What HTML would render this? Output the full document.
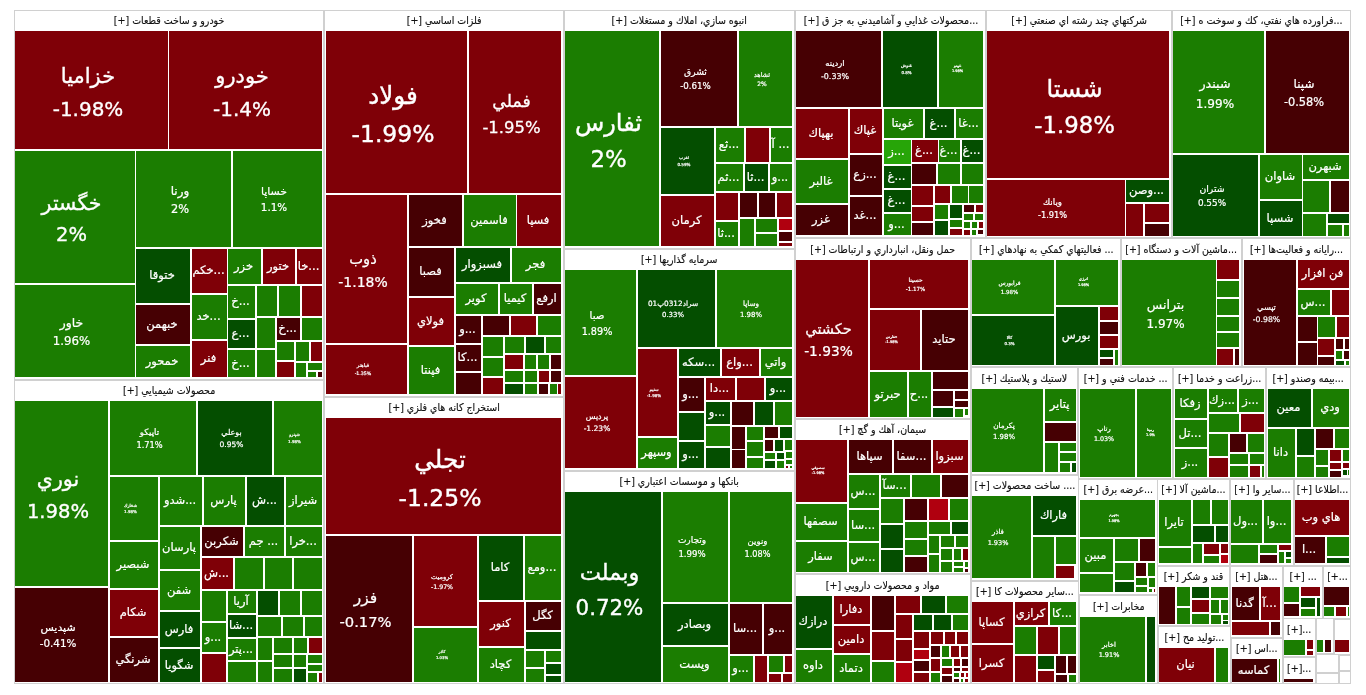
<!DOCTYPE html>
<html lang="fa"><head><meta charset="utf-8"><title>نقشه بازار</title><style>
html,body{margin:0;padding:0;background:#fff}
body{width:1366px;height:695px;position:relative;overflow:hidden;font-family:"DejaVu Sans","Liberation Sans",sans-serif}
.s{position:absolute;box-sizing:border-box;border:1px solid #d0d0d0;background:#fff}
.h{position:absolute;font-size:10.5px;transform:scaleX(.9);-webkit-text-stroke:.15px #111;color:#111;text-align:center;direction:rtl;white-space:nowrap;overflow:hidden}
.c{position:absolute;color:#fff;font-size:11.5px;line-height:1.5;display:flex;align-items:center;justify-content:center;text-align:center;overflow:hidden;white-space:nowrap;-webkit-text-stroke:max(.016em,.22px) #fff}
.c span{display:block;padding-right:2px}
.c .t{line-height:1.53;padding:.24em 7px 0 0}
.c i{font-style:normal;font-size:.95em}
</style></head><body>
<div class="s" style="left:14px;top:10px;width:310px;height:370px"></div>
<div class="h" style="left:-2.1px;top:11px;width:342.2px;height:20px;line-height:19px">خودرو و ساخت قطعات [+]</div>
<div class="c" style="left:15px;top:31px;width:153px;height:118px;background:#7f0007;font-size:21.0px"><span class="t">خزاميا<br><i>-1.98%</i></span></div>
<div class="c" style="left:169px;top:31px;width:153px;height:118px;background:#7f0007;font-size:21.0px"><span class="t">خودرو<br><i>-1.4%</i></span></div>
<div class="c" style="left:15px;top:151px;width:120px;height:132px;background:#1b7d01;font-size:20.5px"><span class="t">خگستر<br><i>2%</i></span></div>
<div class="c" style="left:136px;top:151px;width:95px;height:96px;background:#1b7d01;font-size:11.98px"><span class="t">ورنا<br><i>2%</i></span></div>
<div class="c" style="left:233px;top:151px;width:89px;height:96px;background:#1b7d01;font-size:10.92px"><span class="t">خساپا<br><i>1.1%</i></span></div>
<div class="c" style="left:136px;top:249px;width:54px;height:54px;background:#044e00"><span>ختوقا</span></div>
<div class="c" style="left:192px;top:249px;width:35px;height:44px;background:#7f0007"><span>خكم...</span></div>
<div class="c" style="left:228px;top:249px;width:33px;height:35px;background:#1b7d01"><span>خزر</span></div>
<div class="c" style="left:263px;top:249px;width:32px;height:35px;background:#7f0007"><span>ختور</span></div>
<div class="c" style="left:297px;top:249px;width:25px;height:35px;background:#7f0007"><span>خا...</span></div>
<div class="c" style="left:15px;top:285px;width:120px;height:92px;background:#1b7d01;font-size:12.4px"><span class="t">خاور<br><i>1.96%</i></span></div>
<div class="c" style="left:136px;top:305px;width:54px;height:39px;background:#460003"><span>خبهمن</span></div>
<div class="c" style="left:136px;top:346px;width:54px;height:31px;background:#1b7d01"><span>خمحور</span></div>
<div class="c" style="left:192px;top:295px;width:35px;height:44px;background:#1b7d01"><span>خد...</span></div>
<div class="c" style="left:192px;top:341px;width:35px;height:36px;background:#7f0007"><span>فنر</span></div>
<div class="c" style="left:228px;top:286px;width:27px;height:32px;background:#1b7d01"><span>خ...</span></div>
<div class="c" style="left:228px;top:320px;width:27px;height:28px;background:#044e00"><span>ع...</span></div>
<div class="c" style="left:228px;top:350px;width:27px;height:27px;background:#1b7d01"><span>خ...</span></div>
<div class="c" style="left:257px;top:286px;width:20px;height:30px;background:#1b7d01"></div>
<div class="c" style="left:257px;top:318px;width:18px;height:30px;background:#1b7d01"></div>
<div class="c" style="left:257px;top:350px;width:18px;height:27px;background:#1b7d01"></div>
<div class="c" style="left:279px;top:286px;width:21px;height:30px;background:#1b7d01"></div>
<div class="c" style="left:302px;top:286px;width:20px;height:30px;background:#7f0007"></div>
<div class="c" style="left:277px;top:318px;width:23px;height:22px;background:#460003"><span>خ...</span></div>
<div class="c" style="left:302px;top:318px;width:20px;height:22px;background:#1b7d01"></div>
<div class="c" style="left:277px;top:342px;width:17px;height:18px;background:#1b7d01"></div>
<div class="c" style="left:296px;top:342px;width:13px;height:19px;background:#1b7d01"></div>
<div class="c" style="left:311px;top:342px;width:11px;height:19px;background:#7f0007"></div>
<div class="c" style="left:277px;top:362px;width:17px;height:15px;background:#7f0007"></div>
<div class="c" style="left:296px;top:363px;width:10px;height:14px;background:#1b7d01"></div>
<div class="c" style="left:308px;top:363px;width:14px;height:7px;background:#1b7d01"></div>
<div class="c" style="left:308px;top:372px;width:8px;height:5px;background:#1b7d01"></div>
<div class="c" style="left:318px;top:372px;width:4px;height:5px;background:#460003"></div>
<div class="s" style="left:14px;top:380px;width:310px;height:304px"></div>
<div class="h" style="left:-2.1px;top:381px;width:342.2px;height:20px;line-height:19px">محصولات شيميايي [+]</div>
<div class="c" style="left:15px;top:401px;width:93px;height:185px;background:#1b7d01;font-size:20.6px"><span class="t">نوري<br><i>1.98%</i></span></div>
<div class="c" style="left:110px;top:401px;width:86px;height:74px;background:#1b7d01;font-size:8.69px"><span class="t">تاپيكو<br><i>1.71%</i></span></div>
<div class="c" style="left:198px;top:401px;width:74px;height:74px;background:#044e00;font-size:7.95px"><span class="t">بوعلي<br><i>0.95%</i></span></div>
<div class="c" style="left:274px;top:401px;width:48px;height:74px;background:#1b7d01;font-size:4.24px"><span class="t">شپترو<br><i>1.98%</i></span></div>
<div class="c" style="left:110px;top:477px;width:48px;height:63px;background:#1b7d01;font-size:4.24px"><span class="t">شخارك<br><i>1.98%</i></span></div>
<div class="c" style="left:160px;top:477px;width:42px;height:48px;background:#1b7d01"><span>شدو...</span></div>
<div class="c" style="left:204px;top:477px;width:41px;height:48px;background:#1b7d01"><span>پارس</span></div>
<div class="c" style="left:247px;top:477px;width:37px;height:48px;background:#044e00"><span>ش...</span></div>
<div class="c" style="left:286px;top:477px;width:36px;height:48px;background:#1b7d01"><span>شيراز</span></div>
<div class="c" style="left:160px;top:527px;width:40px;height:42px;background:#1b7d01"><span>پارسان</span></div>
<div class="c" style="left:202px;top:527px;width:41px;height:29px;background:#460003"><span>شكربن</span></div>
<div class="c" style="left:245px;top:527px;width:39px;height:29px;background:#1b7d01"><span>جم ...</span></div>
<div class="c" style="left:286px;top:527px;width:36px;height:29px;background:#1b7d01"><span>خرا...</span></div>
<div class="c" style="left:110px;top:542px;width:48px;height:46px;background:#1b7d01"><span>شبصير</span></div>
<div class="c" style="left:110px;top:590px;width:48px;height:46px;background:#7f0007"><span>شكام</span></div>
<div class="c" style="left:110px;top:638px;width:48px;height:44px;background:#460003"><span>شرنگي</span></div>
<div class="c" style="left:15px;top:588px;width:93px;height:94px;background:#460003;font-size:10.92px"><span class="t">شپديس<br><i>-0.41%</i></span></div>
<div class="c" style="left:160px;top:571px;width:40px;height:39px;background:#1b7d01"><span>شفن</span></div>
<div class="c" style="left:160px;top:612px;width:40px;height:35px;background:#044e00"><span>فارس</span></div>
<div class="c" style="left:160px;top:649px;width:40px;height:33px;background:#044e00"><span>شگويا</span></div>
<div class="c" style="left:202px;top:558px;width:31px;height:31px;background:#7f0007"><span>ش...</span></div>
<div class="c" style="left:235px;top:558px;width:28px;height:31px;background:#1b7d01"></div>
<div class="c" style="left:265px;top:558px;width:27px;height:31px;background:#1b7d01"></div>
<div class="c" style="left:294px;top:558px;width:28px;height:31px;background:#1b7d01"></div>
<div class="c" style="left:202px;top:591px;width:24px;height:30px;background:#1b7d01"></div>
<div class="c" style="left:202px;top:623px;width:24px;height:29px;background:#1b7d01"><span>و...</span></div>
<div class="c" style="left:202px;top:654px;width:24px;height:28px;background:#7f0007"></div>
<div class="c" style="left:228px;top:591px;width:28px;height:22px;background:#1b7d01"><span>آريا</span></div>
<div class="c" style="left:228px;top:615px;width:28px;height:22px;background:#044e00"><span>شا...</span></div>
<div class="c" style="left:228px;top:639px;width:28px;height:21px;background:#1b7d01"><span>پتر...</span></div>
<div class="c" style="left:228px;top:662px;width:28px;height:20px;background:#1b7d01"></div>
<div class="c" style="left:258px;top:591px;width:20px;height:24px;background:#044e00"></div>
<div class="c" style="left:280px;top:591px;width:20px;height:24px;background:#1b7d01"></div>
<div class="c" style="left:302px;top:591px;width:20px;height:24px;background:#1b7d01"></div>
<div class="c" style="left:258px;top:617px;width:23px;height:19px;background:#1b7d01"></div>
<div class="c" style="left:283px;top:617px;width:20px;height:19px;background:#1b7d01"></div>
<div class="c" style="left:305px;top:617px;width:17px;height:19px;background:#1b7d01"></div>
<div class="c" style="left:258px;top:638px;width:14px;height:22px;background:#1b7d01"></div>
<div class="c" style="left:258px;top:662px;width:14px;height:20px;background:#1b7d01"></div>
<div class="c" style="left:274px;top:638px;width:18px;height:15px;background:#1b7d01"></div>
<div class="c" style="left:294px;top:638px;width:13px;height:15px;background:#1b7d01"></div>
<div class="c" style="left:309px;top:638px;width:13px;height:15px;background:#7f0007"></div>
<div class="c" style="left:274px;top:655px;width:18px;height:12px;background:#1b7d01"></div>
<div class="c" style="left:294px;top:655px;width:12px;height:12px;background:#1b7d01"></div>
<div class="c" style="left:308px;top:655px;width:14px;height:8px;background:#1b7d01"></div>
<div class="c" style="left:308px;top:665px;width:14px;height:6px;background:#1b7d01"></div>
<div class="c" style="left:274px;top:669px;width:18px;height:13px;background:#1b7d01"></div>
<div class="c" style="left:294px;top:669px;width:12px;height:13px;background:#044e00"></div>
<div class="c" style="left:308px;top:673px;width:9px;height:9px;background:#1b7d01"></div>
<div class="c" style="left:319px;top:673px;width:3px;height:9px;background:#7f0007"></div>
<div class="s" style="left:324px;top:10px;width:240px;height:387px"></div>
<div class="h" style="left:311.8px;top:11px;width:264.4px;height:20px;line-height:19px">فلزات اساسي [+]</div>
<div class="c" style="left:326px;top:31px;width:141px;height:162px;background:#7f0007;font-size:24.7px"><span class="t">فولاد<br><i>-1.99%</i></span></div>
<div class="c" style="left:469px;top:31px;width:92px;height:162px;background:#7f0007;font-size:17.3px"><span class="t">فملي<br><i>-1.95%</i></span></div>
<div class="c" style="left:326px;top:195px;width:81px;height:148px;background:#7f0007;font-size:14.7px"><span class="t">ذوب<br><i>-1.18%</i></span></div>
<div class="c" style="left:409px;top:195px;width:53px;height:51px;background:#460003"><span>فخوز</span></div>
<div class="c" style="left:464px;top:195px;width:52px;height:51px;background:#1b7d01"><span>فاسمين</span></div>
<div class="c" style="left:517px;top:195px;width:44px;height:51px;background:#7f0007"><span>فسپا</span></div>
<div class="c" style="left:409px;top:248px;width:45px;height:48px;background:#460003"><span>فصبا</span></div>
<div class="c" style="left:456px;top:248px;width:54px;height:34px;background:#044e00"><span>فسبزوار</span></div>
<div class="c" style="left:512px;top:248px;width:49px;height:34px;background:#1b7d01"><span>فجر</span></div>
<div class="c" style="left:456px;top:284px;width:42px;height:30px;background:#1b7d01"><span>كوير</span></div>
<div class="c" style="left:500px;top:284px;width:32px;height:30px;background:#1b7d01"><span>كيميا</span></div>
<div class="c" style="left:534px;top:284px;width:27px;height:30px;background:#460003"><span>ارفع</span></div>
<div class="c" style="left:409px;top:298px;width:45px;height:47px;background:#7f0007"><span>فولاي</span></div>
<div class="c" style="left:409px;top:347px;width:45px;height:47px;background:#1b7d01"><span>فپنتا</span></div>
<div class="c" style="left:326px;top:345px;width:81px;height:49px;background:#7f0007;font-size:4.98px"><span class="t">فباهنر<br><i>-1.35%</i></span></div>
<div class="c" style="left:456px;top:316px;width:25px;height:27px;background:#460003"><span>و...</span></div>
<div class="c" style="left:456px;top:345px;width:25px;height:26px;background:#460003"><span>كا...</span></div>
<div class="c" style="left:456px;top:373px;width:25px;height:21px;background:#460003"></div>
<div class="c" style="left:483px;top:316px;width:26px;height:19px;background:#460003"></div>
<div class="c" style="left:511px;top:316px;width:25px;height:19px;background:#7f0007"></div>
<div class="c" style="left:538px;top:316px;width:23px;height:19px;background:#1b7d01"></div>
<div class="c" style="left:483px;top:337px;width:20px;height:19px;background:#1b7d01"></div>
<div class="c" style="left:505px;top:337px;width:19px;height:16px;background:#1b7d01"></div>
<div class="c" style="left:526px;top:337px;width:18px;height:16px;background:#044e00"></div>
<div class="c" style="left:546px;top:337px;width:15px;height:16px;background:#1b7d01"></div>
<div class="c" style="left:483px;top:358px;width:20px;height:18px;background:#1b7d01"></div>
<div class="c" style="left:483px;top:378px;width:20px;height:16px;background:#7f0007"></div>
<div class="c" style="left:505px;top:355px;width:18px;height:14px;background:#7f0007"></div>
<div class="c" style="left:525px;top:355px;width:11px;height:14px;background:#1b7d01"></div>
<div class="c" style="left:538px;top:355px;width:11px;height:14px;background:#1b7d01"></div>
<div class="c" style="left:551px;top:355px;width:10px;height:14px;background:#460003"></div>
<div class="c" style="left:505px;top:371px;width:18px;height:11px;background:#1b7d01"></div>
<div class="c" style="left:525px;top:371px;width:12px;height:11px;background:#1b7d01"></div>
<div class="c" style="left:539px;top:371px;width:10px;height:11px;background:#7f0007"></div>
<div class="c" style="left:551px;top:371px;width:10px;height:11px;background:#460003"></div>
<div class="c" style="left:505px;top:384px;width:18px;height:10px;background:#044e00"></div>
<div class="c" style="left:525px;top:384px;width:12px;height:10px;background:#1b7d01"></div>
<div class="c" style="left:539px;top:384px;width:9px;height:10px;background:#460003"></div>
<div class="c" style="left:550px;top:384px;width:7px;height:10px;background:#1b7d01"></div>
<div class="c" style="left:558px;top:384px;width:3px;height:10px;background:#7f0007"></div>
<div class="s" style="left:324px;top:397px;width:240px;height:287px"></div>
<div class="h" style="left:311.8px;top:398px;width:264.4px;height:20px;line-height:19px">استخراج كانه هاي فلزي [+]</div>
<div class="c" style="left:326px;top:418px;width:235px;height:116px;background:#7f0007;font-size:24.7px"><span class="t">تجلي<br><i>-1.25%</i></span></div>
<div class="c" style="left:326px;top:536px;width:86px;height:146px;background:#460003;font-size:15.5px"><span class="t">فزر<br><i>-0.17%</i></span></div>
<div class="c" style="left:414px;top:536px;width:63px;height:90px;background:#7f0007;font-size:6.57px"><span class="t">كروميت<br><i>-1.97%</i></span></div>
<div class="c" style="left:414px;top:628px;width:63px;height:54px;background:#1b7d01;font-size:4.03px"><span class="t">كاذر<br><i>1.03%</i></span></div>
<div class="c" style="left:479px;top:536px;width:44px;height:64px;background:#044e00"><span>كاما</span></div>
<div class="c" style="left:525px;top:536px;width:36px;height:64px;background:#1b7d01"><span>ومع...</span></div>
<div class="c" style="left:479px;top:602px;width:45px;height:44px;background:#7f0007"><span>كنور</span></div>
<div class="c" style="left:526px;top:602px;width:35px;height:28px;background:#460003"><span>كگل</span></div>
<div class="c" style="left:526px;top:632px;width:35px;height:17px;background:#044e00"></div>
<div class="c" style="left:479px;top:648px;width:45px;height:34px;background:#1b7d01"><span>كچاد</span></div>
<div class="c" style="left:526px;top:651px;width:18px;height:16px;background:#1b7d01"></div>
<div class="c" style="left:526px;top:669px;width:18px;height:13px;background:#1b7d01"></div>
<div class="c" style="left:546px;top:651px;width:15px;height:11px;background:#1b7d01"></div>
<div class="c" style="left:546px;top:664px;width:15px;height:10px;background:#044e00"></div>
<div class="c" style="left:546px;top:676px;width:15px;height:6px;background:#044e00"></div>
<div class="s" style="left:564px;top:10px;width:231px;height:239px"></div>
<div class="h" style="left:552.3px;top:11px;width:254.4px;height:20px;line-height:19px">انبوه سازي، املاك و مستغلات [+]</div>
<div class="c" style="left:565px;top:31px;width:94px;height:215px;background:#1b7d01;font-size:24.0px"><span class="t">ثفارس<br><i>2%</i></span></div>
<div class="c" style="left:661px;top:31px;width:76px;height:95px;background:#460003;font-size:9.12px"><span class="t">ثشرق<br><i>-0.61%</i></span></div>
<div class="c" style="left:739px;top:31px;width:53px;height:95px;background:#1b7d01;font-size:6.36px"><span class="t">ثشاهد<br><i>2%</i></span></div>
<div class="c" style="left:661px;top:128px;width:53px;height:66px;background:#044e00;font-size:4.35px"><span class="t">ثغرب<br><i>0.59%</i></span></div>
<div class="c" style="left:661px;top:196px;width:53px;height:50px;background:#7f0007"><span>كرمان</span></div>
<div class="c" style="left:716px;top:128px;width:28px;height:34px;background:#1b7d01"><span>ثع...</span></div>
<div class="c" style="left:746px;top:128px;width:23px;height:34px;background:#7f0007"></div>
<div class="c" style="left:771px;top:128px;width:21px;height:34px;background:#1b7d01"><span>آ ...</span></div>
<div class="c" style="left:716px;top:164px;width:27px;height:27px;background:#1b7d01"><span>ثم...</span></div>
<div class="c" style="left:745px;top:164px;width:23px;height:27px;background:#044e00"><span>ثا...</span></div>
<div class="c" style="left:770px;top:164px;width:22px;height:27px;background:#1b7d01"><span>و...</span></div>
<div class="c" style="left:716px;top:193px;width:22px;height:27px;background:#7f0007"></div>
<div class="c" style="left:740px;top:193px;width:17px;height:24px;background:#460003"></div>
<div class="c" style="left:759px;top:193px;width:16px;height:24px;background:#460003"></div>
<div class="c" style="left:777px;top:193px;width:15px;height:24px;background:#7f0007"></div>
<div class="c" style="left:716px;top:222px;width:22px;height:24px;background:#1b7d01"><span>ثا...</span></div>
<div class="c" style="left:740px;top:219px;width:14px;height:27px;background:#1b7d01"></div>
<div class="c" style="left:756px;top:219px;width:21px;height:13px;background:#1b7d01"></div>
<div class="c" style="left:756px;top:234px;width:21px;height:12px;background:#1b7d01"></div>
<div class="c" style="left:779px;top:219px;width:13px;height:11px;background:#b0000f"></div>
<div class="c" style="left:779px;top:232px;width:13px;height:9px;background:#460003"></div>
<div class="c" style="left:779px;top:243px;width:13px;height:3px;background:#7f0007"></div>
<div class="s" style="left:564px;top:249px;width:231px;height:222px"></div>
<div class="h" style="left:552.3px;top:250px;width:254.4px;height:20px;line-height:19px">سرمايه گذاريها [+]</div>
<div class="c" style="left:565px;top:270px;width:71px;height:105px;background:#1b7d01;font-size:10.18px"><span class="t">صبا<br><i>1.89%</i></span></div>
<div class="c" style="left:565px;top:377px;width:71px;height:91px;background:#7f0007;font-size:7.95px"><span class="t">پرديس<br><i>-1.23%</i></span></div>
<div class="c" style="left:638px;top:270px;width:77px;height:77px;background:#044e00;font-size:7.31px"><span class="t">سراد0312پ01<br><i>0.33%</i></span></div>
<div class="c" style="left:717px;top:270px;width:75px;height:77px;background:#1b7d01;font-size:7.31px"><span class="t">وساپا<br><i>1.98%</i></span></div>
<div class="c" style="left:638px;top:349px;width:39px;height:87px;background:#7f0007;font-size:4.24px"><span class="t">ستيم<br><i>-1.98%</i></span></div>
<div class="c" style="left:638px;top:438px;width:39px;height:30px;background:#1b7d01"><span>وسپهر</span></div>
<div class="c" style="left:679px;top:349px;width:41px;height:27px;background:#044e00"><span>سكه...</span></div>
<div class="c" style="left:722px;top:349px;width:37px;height:27px;background:#7f0007"><span>واع...</span></div>
<div class="c" style="left:761px;top:349px;width:31px;height:27px;background:#1b7d01"><span>واتي</span></div>
<div class="c" style="left:679px;top:378px;width:25px;height:33px;background:#460003"><span>و...</span></div>
<div class="c" style="left:679px;top:413px;width:25px;height:27px;background:#044e00"></div>
<div class="c" style="left:679px;top:442px;width:25px;height:26px;background:#044e00"><span>و...</span></div>
<div class="c" style="left:706px;top:378px;width:29px;height:22px;background:#7f0007"><span>دا...</span></div>
<div class="c" style="left:737px;top:378px;width:27px;height:22px;background:#7f0007"></div>
<div class="c" style="left:766px;top:378px;width:26px;height:22px;background:#044e00"><span>و...</span></div>
<div class="c" style="left:706px;top:402px;width:24px;height:22px;background:#044e00"><span>و...</span></div>
<div class="c" style="left:732px;top:402px;width:21px;height:23px;background:#460003"></div>
<div class="c" style="left:755px;top:402px;width:18px;height:23px;background:#044e00"></div>
<div class="c" style="left:775px;top:402px;width:17px;height:23px;background:#1b7d01"></div>
<div class="c" style="left:706px;top:426px;width:24px;height:20px;background:#1b7d01"></div>
<div class="c" style="left:706px;top:448px;width:24px;height:20px;background:#044e00"></div>
<div class="c" style="left:732px;top:427px;width:13px;height:22px;background:#460003"></div>
<div class="c" style="left:732px;top:450px;width:13px;height:18px;background:#460003"></div>
<div class="c" style="left:747px;top:427px;width:16px;height:13px;background:#1b7d01"></div>
<div class="c" style="left:747px;top:442px;width:16px;height:14px;background:#1b7d01"></div>
<div class="c" style="left:747px;top:458px;width:16px;height:10px;background:#1b7d01"></div>
<div class="c" style="left:765px;top:427px;width:13px;height:11px;background:#460003"></div>
<div class="c" style="left:780px;top:427px;width:12px;height:11px;background:#044e00"></div>
<div class="c" style="left:765px;top:440px;width:8px;height:11px;background:#460003"></div>
<div class="c" style="left:775px;top:440px;width:8px;height:11px;background:#044e00"></div>
<div class="c" style="left:785px;top:440px;width:7px;height:10px;background:#1b7d01"></div>
<div class="c" style="left:765px;top:453px;width:10px;height:6px;background:#1b7d01"></div>
<div class="c" style="left:777px;top:453px;width:7px;height:6px;background:#044e00"></div>
<div class="c" style="left:786px;top:452px;width:6px;height:6px;background:#1b7d01"></div>
<div class="c" style="left:765px;top:461px;width:10px;height:7px;background:#044e00"></div>
<div class="c" style="left:777px;top:461px;width:7px;height:7px;background:#1b7d01"></div>
<div class="c" style="left:786px;top:460px;width:6px;height:4px;background:#1b7d01"></div>
<div class="c" style="left:786px;top:466px;width:2px;height:2px;background:#7f0007"></div>
<div class="c" style="left:790px;top:466px;width:2px;height:2px;background:#1b7d01"></div>
<div class="s" style="left:564px;top:471px;width:231px;height:213px"></div>
<div class="h" style="left:552.3px;top:472px;width:254.4px;height:20px;line-height:19px">بانكها و موسسات اعتباري [+]</div>
<div class="c" style="left:565px;top:492px;width:96px;height:190px;background:#044e00;font-size:22.5px"><span class="t">وبملت<br><i>0.72%</i></span></div>
<div class="c" style="left:663px;top:492px;width:65px;height:110px;background:#1b7d01;font-size:9.01px"><span class="t">وتجارت<br><i>1.99%</i></span></div>
<div class="c" style="left:730px;top:492px;width:62px;height:110px;background:#1b7d01;font-size:8.59px"><span class="t">ونوين<br><i>1.08%</i></span></div>
<div class="c" style="left:663px;top:604px;width:65px;height:41px;background:#044e00"><span>وبصادر</span></div>
<div class="c" style="left:663px;top:647px;width:65px;height:35px;background:#1b7d01"><span>وپست</span></div>
<div class="c" style="left:730px;top:604px;width:32px;height:50px;background:#460003"><span>سا...</span></div>
<div class="c" style="left:764px;top:604px;width:28px;height:50px;background:#460003"><span>و...</span></div>
<div class="c" style="left:730px;top:656px;width:23px;height:26px;background:#1b7d01"><span>و...</span></div>
<div class="c" style="left:755px;top:656px;width:12px;height:26px;background:#7f0007"></div>
<div class="c" style="left:769px;top:656px;width:14px;height:16px;background:#1b7d01"></div>
<div class="c" style="left:785px;top:656px;width:7px;height:16px;background:#7f0007"></div>
<div class="c" style="left:769px;top:674px;width:12px;height:8px;background:#7f0007"></div>
<div class="c" style="left:783px;top:674px;width:9px;height:8px;background:#7f0007"></div>
<div class="s" style="left:795px;top:10px;width:191px;height:228px"></div>
<div class="h" style="left:785.5px;top:11px;width:210.0px;height:20px;line-height:19px">...محصولات غذايي و آشاميدني به جز ق [+]</div>
<div class="c" style="left:796px;top:31px;width:85px;height:76px;background:#460003;font-size:8.37px"><span class="t">اردينه<br><i>-0.33%</i></span></div>
<div class="c" style="left:883px;top:31px;width:54px;height:76px;background:#044e00;font-size:4.24px"><span class="t">غنوش<br><i>0.8%</i></span></div>
<div class="c" style="left:939px;top:31px;width:44px;height:76px;background:#1b7d01;font-size:3.71px"><span class="t">غپينو<br><i>1.98%</i></span></div>
<div class="c" style="left:796px;top:109px;width:52px;height:49px;background:#7f0007"><span>بهپاك</span></div>
<div class="c" style="left:796px;top:160px;width:52px;height:43px;background:#1b7d01"><span>غالبر</span></div>
<div class="c" style="left:796px;top:205px;width:52px;height:30px;background:#460003"><span>غزر</span></div>
<div class="c" style="left:850px;top:109px;width:32px;height:44px;background:#7f0007"><span>غپاك</span></div>
<div class="c" style="left:850px;top:155px;width:32px;height:40px;background:#460003"><span>زع...</span></div>
<div class="c" style="left:850px;top:197px;width:32px;height:38px;background:#460003"><span>غد...</span></div>
<div class="c" style="left:884px;top:109px;width:39px;height:29px;background:#1b7d01"><span>غويتا</span></div>
<div class="c" style="left:925px;top:109px;width:29px;height:29px;background:#044e00"><span>غ...</span></div>
<div class="c" style="left:956px;top:109px;width:27px;height:29px;background:#1b7d01"><span>غا...</span></div>
<div class="c" style="left:884px;top:140px;width:27px;height:24px;background:#27a508"><span>ز...</span></div>
<div class="c" style="left:912px;top:140px;width:26px;height:22px;background:#7f0007"><span>غ...</span></div>
<div class="c" style="left:939px;top:140px;width:21px;height:22px;background:#1b7d01"><span>غ...</span></div>
<div class="c" style="left:962px;top:140px;width:21px;height:22px;background:#044e00"><span>غ...</span></div>
<div class="c" style="left:912px;top:164px;width:24px;height:20px;background:#460003"></div>
<div class="c" style="left:938px;top:164px;width:22px;height:20px;background:#1b7d01"></div>
<div class="c" style="left:962px;top:164px;width:21px;height:20px;background:#1b7d01"></div>
<div class="c" style="left:884px;top:166px;width:27px;height:22px;background:#044e00"><span>غ...</span></div>
<div class="c" style="left:884px;top:190px;width:27px;height:22px;background:#044e00"><span>غ...</span></div>
<div class="c" style="left:884px;top:214px;width:27px;height:21px;background:#1b7d01"><span>و...</span></div>
<div class="c" style="left:912px;top:186px;width:21px;height:19px;background:#7f0007"></div>
<div class="c" style="left:935px;top:186px;width:15px;height:17px;background:#7f0007"></div>
<div class="c" style="left:952px;top:186px;width:16px;height:17px;background:#1b7d01"></div>
<div class="c" style="left:969px;top:186px;width:14px;height:17px;background:#1b7d01"></div>
<div class="c" style="left:912px;top:207px;width:21px;height:14px;background:#7f0007"></div>
<div class="c" style="left:912px;top:223px;width:21px;height:12px;background:#460003"></div>
<div class="c" style="left:935px;top:205px;width:13px;height:14px;background:#1b7d01"></div>
<div class="c" style="left:935px;top:221px;width:13px;height:14px;background:#044e00"></div>
<div class="c" style="left:950px;top:205px;width:12px;height:13px;background:#044e00"></div>
<div class="c" style="left:950px;top:220px;width:12px;height:7px;background:#1b7d01"></div>
<div class="c" style="left:950px;top:229px;width:12px;height:6px;background:#7f0007"></div>
<div class="c" style="left:964px;top:205px;width:10px;height:7px;background:#460003"></div>
<div class="c" style="left:976px;top:205px;width:7px;height:7px;background:#7f0007"></div>
<div class="c" style="left:964px;top:214px;width:9px;height:6px;background:#1b7d01"></div>
<div class="c" style="left:975px;top:214px;width:8px;height:6px;background:#1b7d01"></div>
<div class="c" style="left:964px;top:222px;width:6px;height:6px;background:#1b7d01"></div>
<div class="c" style="left:972px;top:222px;width:5px;height:6px;background:#1b7d01"></div>
<div class="c" style="left:979px;top:222px;width:4px;height:6px;background:#7f0007"></div>
<div class="c" style="left:964px;top:230px;width:6px;height:5px;background:#7f0007"></div>
<div class="c" style="left:972px;top:230px;width:4px;height:5px;background:#1b7d01"></div>
<div class="c" style="left:978px;top:230px;width:5px;height:4px;background:#460003"></div>
<div class="s" style="left:795px;top:238px;width:176px;height:181px"></div>
<div class="h" style="left:786.4px;top:239px;width:193.3px;height:21px;line-height:20px">حمل ونقل، انبارداري و ارتباطات [+]</div>
<div class="c" style="left:796px;top:260px;width:72px;height:157px;background:#7f0007;font-size:14.5px"><span class="t">حكشتي<br><i>-1.93%</i></span></div>
<div class="c" style="left:870px;top:260px;width:98px;height:48px;background:#7f0007;font-size:5.83px"><span class="t">حسينا<br><i>-1.17%</i></span></div>
<div class="c" style="left:870px;top:310px;width:50px;height:60px;background:#7f0007;font-size:3.71px"><span class="t">حفارس<br><i>-1.98%</i></span></div>
<div class="c" style="left:922px;top:310px;width:46px;height:60px;background:#460003"><span>حتايد</span></div>
<div class="c" style="left:870px;top:372px;width:37px;height:45px;background:#1b7d01"><span>حبرتو</span></div>
<div class="c" style="left:909px;top:372px;width:22px;height:45px;background:#1b7d01"><span>ح...</span></div>
<div class="c" style="left:933px;top:372px;width:35px;height:17px;background:#460003"></div>
<div class="c" style="left:933px;top:391px;width:20px;height:15px;background:#460003"></div>
<div class="c" style="left:955px;top:391px;width:13px;height:8px;background:#460003"></div>
<div class="c" style="left:955px;top:401px;width:13px;height:6px;background:#460003"></div>
<div class="c" style="left:933px;top:408px;width:20px;height:9px;background:#044e00"></div>
<div class="c" style="left:955px;top:409px;width:8px;height:8px;background:#1b7d01"></div>
<div class="c" style="left:965px;top:409px;width:3px;height:6px;background:#1b7d01"></div>
<div class="s" style="left:795px;top:419px;width:176px;height:155px"></div>
<div class="h" style="left:786.4px;top:420px;width:193.3px;height:20px;line-height:19px">سيمان، آهك و گچ [+]</div>
<div class="c" style="left:796px;top:440px;width:51px;height:62px;background:#7f0007;font-size:3.71px"><span class="t">سصوفي<br><i>-1.98%</i></span></div>
<div class="c" style="left:796px;top:504px;width:51px;height:36px;background:#1b7d01"><span>سصفها</span></div>
<div class="c" style="left:796px;top:542px;width:51px;height:30px;background:#1b7d01"><span>سفار</span></div>
<div class="c" style="left:849px;top:440px;width:43px;height:33px;background:#460003"><span>سپاها</span></div>
<div class="c" style="left:894px;top:440px;width:37px;height:33px;background:#460003"><span>سفا...</span></div>
<div class="c" style="left:933px;top:440px;width:35px;height:33px;background:#7f0007"><span>سبزوا</span></div>
<div class="c" style="left:849px;top:475px;width:30px;height:33px;background:#1b7d01"><span>س...</span></div>
<div class="c" style="left:849px;top:510px;width:30px;height:31px;background:#1b7d01"><span>سا...</span></div>
<div class="c" style="left:849px;top:543px;width:30px;height:29px;background:#1b7d01"><span>س...</span></div>
<div class="c" style="left:881px;top:475px;width:29px;height:22px;background:#1b7d01"><span>سآ...</span></div>
<div class="c" style="left:912px;top:475px;width:28px;height:22px;background:#1b7d01"></div>
<div class="c" style="left:942px;top:475px;width:26px;height:22px;background:#460003"></div>
<div class="c" style="left:881px;top:499px;width:22px;height:24px;background:#1b7d01"></div>
<div class="c" style="left:905px;top:499px;width:22px;height:21px;background:#460003"></div>
<div class="c" style="left:929px;top:499px;width:19px;height:21px;background:#b0000f"></div>
<div class="c" style="left:950px;top:499px;width:18px;height:21px;background:#1b7d01"></div>
<div class="c" style="left:881px;top:525px;width:22px;height:23px;background:#044e00"></div>
<div class="c" style="left:881px;top:550px;width:22px;height:22px;background:#044e00"></div>
<div class="c" style="left:905px;top:522px;width:22px;height:16px;background:#1b7d01"></div>
<div class="c" style="left:905px;top:540px;width:22px;height:15px;background:#1b7d01"></div>
<div class="c" style="left:905px;top:557px;width:22px;height:15px;background:#460003"></div>
<div class="c" style="left:929px;top:522px;width:21px;height:12px;background:#1b7d01"></div>
<div class="c" style="left:952px;top:522px;width:16px;height:12px;background:#044e00"></div>
<div class="c" style="left:929px;top:536px;width:10px;height:17px;background:#1b7d01"></div>
<div class="c" style="left:929px;top:555px;width:10px;height:17px;background:#1b7d01"></div>
<div class="c" style="left:941px;top:536px;width:13px;height:11px;background:#1b7d01"></div>
<div class="c" style="left:956px;top:536px;width:12px;height:11px;background:#1b7d01"></div>
<div class="c" style="left:941px;top:549px;width:11px;height:11px;background:#1b7d01"></div>
<div class="c" style="left:954px;top:549px;width:7px;height:11px;background:#1b7d01"></div>
<div class="c" style="left:963px;top:549px;width:5px;height:11px;background:#7f0007"></div>
<div class="c" style="left:941px;top:562px;width:11px;height:10px;background:#1b7d01"></div>
<div class="c" style="left:954px;top:562px;width:9px;height:4px;background:#1b7d01"></div>
<div class="c" style="left:965px;top:562px;width:3px;height:5px;background:#1b7d01"></div>
<div class="c" style="left:954px;top:568px;width:9px;height:4px;background:#1b7d01"></div>
<div class="c" style="left:965px;top:569px;width:3px;height:3px;background:#460003"></div>
<div class="s" style="left:795px;top:574px;width:176px;height:110px"></div>
<div class="h" style="left:786.4px;top:575px;width:193.3px;height:21px;line-height:20px">مواد و محصولات دارويي [+]</div>
<div class="c" style="left:796px;top:596px;width:36px;height:52px;background:#044e00"><span>درازك</span></div>
<div class="c" style="left:796px;top:650px;width:36px;height:32px;background:#1b7d01"><span>داوه</span></div>
<div class="c" style="left:834px;top:596px;width:36px;height:28px;background:#7f0007"><span>دفارا</span></div>
<div class="c" style="left:834px;top:626px;width:36px;height:27px;background:#7f0007"><span>دامين</span></div>
<div class="c" style="left:834px;top:655px;width:36px;height:27px;background:#1b7d01"><span>دتماد</span></div>
<div class="c" style="left:872px;top:596px;width:22px;height:34px;background:#460003"></div>
<div class="c" style="left:872px;top:632px;width:22px;height:28px;background:#7f0007"></div>
<div class="c" style="left:872px;top:662px;width:22px;height:20px;background:#1b7d01"></div>
<div class="c" style="left:896px;top:596px;width:24px;height:17px;background:#7f0007"></div>
<div class="c" style="left:922px;top:596px;width:23px;height:17px;background:#044e00"></div>
<div class="c" style="left:947px;top:596px;width:21px;height:17px;background:#1b7d01"></div>
<div class="c" style="left:896px;top:615px;width:16px;height:23px;background:#7f0007"></div>
<div class="c" style="left:896px;top:640px;width:16px;height:21px;background:#7f0007"></div>
<div class="c" style="left:896px;top:663px;width:16px;height:19px;background:#b0000f"></div>
<div class="c" style="left:914px;top:615px;width:18px;height:15px;background:#044e00"></div>
<div class="c" style="left:934px;top:615px;width:17px;height:15px;background:#044e00"></div>
<div class="c" style="left:953px;top:615px;width:15px;height:15px;background:#1b7d01"></div>
<div class="c" style="left:914px;top:632px;width:15px;height:16px;background:#7f0007"></div>
<div class="c" style="left:914px;top:650px;width:15px;height:9px;background:#b0000f"></div>
<div class="c" style="left:914px;top:661px;width:15px;height:10px;background:#460003"></div>
<div class="c" style="left:914px;top:673px;width:15px;height:9px;background:#7f0007"></div>
<div class="c" style="left:931px;top:632px;width:12px;height:12px;background:#7f0007"></div>
<div class="c" style="left:945px;top:632px;width:10px;height:12px;background:#7f0007"></div>
<div class="c" style="left:957px;top:632px;width:11px;height:12px;background:#7f0007"></div>
<div class="c" style="left:931px;top:646px;width:9px;height:11px;background:#460003"></div>
<div class="c" style="left:942px;top:646px;width:7px;height:11px;background:#1b7d01"></div>
<div class="c" style="left:951px;top:646px;width:8px;height:11px;background:#7f0007"></div>
<div class="c" style="left:961px;top:646px;width:7px;height:11px;background:#7f0007"></div>
<div class="c" style="left:931px;top:659px;width:9px;height:12px;background:#7f0007"></div>
<div class="c" style="left:931px;top:673px;width:9px;height:9px;background:#1b7d01"></div>
<div class="c" style="left:942px;top:659px;width:10px;height:7px;background:#1b7d01"></div>
<div class="c" style="left:954px;top:659px;width:6px;height:7px;background:#7f0007"></div>
<div class="c" style="left:962px;top:659px;width:6px;height:7px;background:#460003"></div>
<div class="c" style="left:942px;top:668px;width:10px;height:6px;background:#7f0007"></div>
<div class="c" style="left:954px;top:668px;width:6px;height:3px;background:#460003"></div>
<div class="c" style="left:962px;top:668px;width:6px;height:3px;background:#7f0007"></div>
<div class="c" style="left:942px;top:676px;width:10px;height:6px;background:#460003"></div>
<div class="c" style="left:954px;top:673px;width:5px;height:4px;background:#1b7d01"></div>
<div class="c" style="left:961px;top:673px;width:3px;height:4px;background:#7f0007"></div>
<div class="c" style="left:966px;top:673px;width:2px;height:4px;background:#b0000f"></div>
<div class="c" style="left:954px;top:679px;width:5px;height:3px;background:#460003"></div>
<div class="c" style="left:961px;top:679px;width:2px;height:3px;background:#1b7d01"></div>
<div class="c" style="left:965px;top:679px;width:3px;height:3px;background:#7f0007"></div>
<div class="s" style="left:986px;top:10px;width:186px;height:228px"></div>
<div class="h" style="left:976.8px;top:11px;width:204.4px;height:20px;line-height:19px">شركتهاي چند رشته اي صنعتي [+]</div>
<div class="c" style="left:987px;top:31px;width:182px;height:147px;background:#7f0007;font-size:24.0px"><span class="t">شستا<br><i>-1.98%</i></span></div>
<div class="c" style="left:987px;top:180px;width:138px;height:56px;background:#7f0007;font-size:8.69px"><span class="t">وبانك<br><i>-1.91%</i></span></div>
<div class="c" style="left:1126px;top:180px;width:43px;height:22px;background:#044e00"><span>وصن...</span></div>
<div class="c" style="left:1126px;top:204px;width:17px;height:32px;background:#7f0007"></div>
<div class="c" style="left:1145px;top:204px;width:24px;height:18px;background:#7f0007"></div>
<div class="c" style="left:1145px;top:224px;width:24px;height:12px;background:#460003"></div>
<div class="s" style="left:1172px;top:10px;width:179px;height:228px"></div>
<div class="h" style="left:1163.2px;top:11px;width:196.7px;height:20px;line-height:19px">...فراورده هاي نفتي، كك و سوخت ه [+]</div>
<div class="c" style="left:1173px;top:31px;width:91px;height:122px;background:#1b7d01;font-size:12.7px"><span class="t">شبندر<br><i>1.99%</i></span></div>
<div class="c" style="left:1266px;top:31px;width:83px;height:122px;background:#460003;font-size:11.98px"><span class="t">شپنا<br><i>-0.58%</i></span></div>
<div class="c" style="left:1173px;top:155px;width:85px;height:81px;background:#044e00;font-size:9.33px"><span class="t">شتران<br><i>0.55%</i></span></div>
<div class="c" style="left:1260px;top:155px;width:42px;height:44px;background:#1b7d01"><span>شاوان</span></div>
<div class="c" style="left:1260px;top:201px;width:42px;height:35px;background:#044e00"><span>شسپا</span></div>
<div class="c" style="left:1303px;top:155px;width:46px;height:24px;background:#1b7d01"><span>شبهرن</span></div>
<div class="c" style="left:1303px;top:181px;width:26px;height:31px;background:#1b7d01"></div>
<div class="c" style="left:1331px;top:181px;width:18px;height:31px;background:#460003"></div>
<div class="c" style="left:1303px;top:214px;width:23px;height:22px;background:#1b7d01"></div>
<div class="c" style="left:1328px;top:214px;width:21px;height:9px;background:#044e00"></div>
<div class="c" style="left:1328px;top:225px;width:14px;height:11px;background:#1b7d01"></div>
<div class="c" style="left:1344px;top:225px;width:5px;height:11px;background:#1b7d01"></div>
<div class="s" style="left:971px;top:238px;width:150px;height:129px"></div>
<div class="h" style="left:963.8px;top:239px;width:164.4px;height:21px;line-height:20px">... فعاليتهاي كمكي به نهادهاي [+]</div>
<div class="c" style="left:972px;top:260px;width:82px;height:54px;background:#1b7d01;font-size:5.83px"><span class="t">فرابورس<br><i>1.98%</i></span></div>
<div class="c" style="left:972px;top:316px;width:82px;height:49px;background:#044e00;font-size:4.24px"><span class="t">كالا<br><i>0.3%</i></span></div>
<div class="c" style="left:1056px;top:260px;width:62px;height:45px;background:#1b7d01;font-size:3.71px"><span class="t">انرژي<br><i>1.98%</i></span></div>
<div class="c" style="left:1056px;top:307px;width:42px;height:58px;background:#044e00"><span>بورس</span></div>
<div class="c" style="left:1100px;top:307px;width:18px;height:13px;background:#7f0007"></div>
<div class="c" style="left:1100px;top:322px;width:18px;height:12px;background:#460003"></div>
<div class="c" style="left:1100px;top:336px;width:18px;height:12px;background:#7f0007"></div>
<div class="c" style="left:1100px;top:350px;width:13px;height:7px;background:#044e00"></div>
<div class="c" style="left:1115px;top:350px;width:3px;height:15px;background:#1b7d01"></div>
<div class="c" style="left:1100px;top:359px;width:13px;height:6px;background:#460003"></div>
<div class="s" style="left:1121px;top:238px;width:121px;height:129px"></div>
<div class="h" style="left:1115.4px;top:239px;width:132.2px;height:21px;line-height:20px">...ماشين آلات و دستگاه [+]</div>
<div class="c" style="left:1122px;top:260px;width:94px;height:105px;background:#1b7d01;font-size:12.6px"><span class="t">بترانس<br><i>1.97%</i></span></div>
<div class="c" style="left:1217px;top:260px;width:22px;height:19px;background:#7f0007"></div>
<div class="c" style="left:1217px;top:281px;width:22px;height:16px;background:#1b7d01"></div>
<div class="c" style="left:1217px;top:299px;width:22px;height:16px;background:#1b7d01"></div>
<div class="c" style="left:1217px;top:317px;width:22px;height:14px;background:#1b7d01"></div>
<div class="c" style="left:1217px;top:333px;width:22px;height:14px;background:#1b7d01"></div>
<div class="c" style="left:1217px;top:349px;width:16px;height:16px;background:#7f0007"></div>
<div class="c" style="left:1235px;top:349px;width:4px;height:16px;background:#460003"></div>
<div class="s" style="left:1242px;top:238px;width:109px;height:129px"></div>
<div class="h" style="left:1237.0px;top:239px;width:118.9px;height:21px;line-height:20px">...رايانه و فعاليت‌ها [+]</div>
<div class="c" style="left:1244px;top:260px;width:52px;height:105px;background:#460003;font-size:8.16px"><span class="t">تپسي<br><i>-0.98%</i></span></div>
<div class="c" style="left:1298px;top:260px;width:51px;height:28px;background:#7f0007"><span>فن افزار</span></div>
<div class="c" style="left:1298px;top:290px;width:32px;height:25px;background:#1b7d01"><span>س...</span></div>
<div class="c" style="left:1332px;top:290px;width:17px;height:25px;background:#7f0007"></div>
<div class="c" style="left:1298px;top:317px;width:19px;height:24px;background:#460003"></div>
<div class="c" style="left:1298px;top:343px;width:19px;height:22px;background:#460003"></div>
<div class="c" style="left:1318px;top:317px;width:17px;height:20px;background:#1b7d01"></div>
<div class="c" style="left:1337px;top:317px;width:12px;height:20px;background:#7f0007"></div>
<div class="c" style="left:1318px;top:339px;width:16px;height:16px;background:#7f0007"></div>
<div class="c" style="left:1318px;top:357px;width:16px;height:8px;background:#460003"></div>
<div class="c" style="left:1336px;top:339px;width:7px;height:10px;background:#460003"></div>
<div class="c" style="left:1345px;top:339px;width:4px;height:10px;background:#460003"></div>
<div class="c" style="left:1336px;top:351px;width:6px;height:8px;background:#1b7d01"></div>
<div class="c" style="left:1344px;top:351px;width:5px;height:8px;background:#460003"></div>
<div class="c" style="left:1336px;top:361px;width:8px;height:4px;background:#044e00"></div>
<div class="c" style="left:1346px;top:361px;width:3px;height:4px;background:#1b7d01"></div>
<div class="s" style="left:971px;top:367px;width:107px;height:108px"></div>
<div class="h" style="left:966.1px;top:368px;width:116.7px;height:21px;line-height:20px">لاستيك و پلاستيك [+]</div>
<div class="c" style="left:972px;top:389px;width:71px;height:83px;background:#1b7d01;font-size:7.31px"><span class="t">پكرمان<br><i>1.98%</i></span></div>
<div class="c" style="left:1045px;top:389px;width:31px;height:32px;background:#1b7d01"><span>پتاير</span></div>
<div class="c" style="left:1045px;top:423px;width:31px;height:18px;background:#460003"></div>
<div class="c" style="left:1045px;top:443px;width:13px;height:29px;background:#1b7d01"></div>
<div class="c" style="left:1060px;top:443px;width:16px;height:8px;background:#1b7d01"></div>
<div class="c" style="left:1060px;top:453px;width:16px;height:8px;background:#1b7d01"></div>
<div class="c" style="left:1060px;top:463px;width:10px;height:9px;background:#1b7d01"></div>
<div class="c" style="left:1072px;top:463px;width:4px;height:9px;background:#044e00"></div>
<div class="s" style="left:1078px;top:367px;width:95px;height:112px"></div>
<div class="h" style="left:1073.8px;top:368px;width:103.3px;height:21px;line-height:20px">... خدمات فني و [+]</div>
<div class="c" style="left:1080px;top:389px;width:55px;height:88px;background:#1b7d01;font-size:6.68px"><span class="t">رتاپ<br><i>1.03%</i></span></div>
<div class="c" style="left:1137px;top:389px;width:34px;height:88px;background:#1b7d01;font-size:3.71px"><span class="t">رمپنا<br><i>1.9%</i></span></div>
<div class="s" style="left:1173px;top:367px;width:93px;height:112px"></div>
<div class="h" style="left:1169.0px;top:368px;width:101.1px;height:21px;line-height:20px">...زراعت و خدما [+]</div>
<div class="c" style="left:1175px;top:389px;width:32px;height:29px;background:#1b7d01"><span>زفكا</span></div>
<div class="c" style="left:1175px;top:420px;width:32px;height:27px;background:#1b7d01"><span>تل...</span></div>
<div class="c" style="left:1175px;top:449px;width:32px;height:28px;background:#1b7d01"><span>ز...</span></div>
<div class="c" style="left:1209px;top:389px;width:28px;height:23px;background:#1b7d01"><span>زك...</span></div>
<div class="c" style="left:1239px;top:389px;width:25px;height:23px;background:#1b7d01"><span>ز...</span></div>
<div class="c" style="left:1209px;top:414px;width:30px;height:18px;background:#1b7d01"></div>
<div class="c" style="left:1241px;top:414px;width:23px;height:18px;background:#7f0007"></div>
<div class="c" style="left:1209px;top:434px;width:19px;height:22px;background:#1b7d01"></div>
<div class="c" style="left:1230px;top:434px;width:16px;height:18px;background:#460003"></div>
<div class="c" style="left:1248px;top:434px;width:16px;height:18px;background:#1b7d01"></div>
<div class="c" style="left:1209px;top:458px;width:19px;height:19px;background:#7f0007"></div>
<div class="c" style="left:1230px;top:454px;width:18px;height:10px;background:#1b7d01"></div>
<div class="c" style="left:1250px;top:454px;width:14px;height:10px;background:#1b7d01"></div>
<div class="c" style="left:1230px;top:466px;width:18px;height:11px;background:#1b7d01"></div>
<div class="c" style="left:1250px;top:466px;width:10px;height:11px;background:#7f0007"></div>
<div class="c" style="left:1262px;top:466px;width:2px;height:11px;background:#1b7d01"></div>
<div class="s" style="left:1266px;top:367px;width:85px;height:112px"></div>
<div class="h" style="left:1262.4px;top:368px;width:92.2px;height:21px;line-height:20px">...بيمه وصندو [+]</div>
<div class="c" style="left:1268px;top:389px;width:43px;height:38px;background:#044e00"><span>معين</span></div>
<div class="c" style="left:1313px;top:389px;width:36px;height:38px;background:#1b7d01"><span>ودي</span></div>
<div class="c" style="left:1268px;top:429px;width:27px;height:48px;background:#1b7d01"><span>دانا</span></div>
<div class="c" style="left:1297px;top:429px;width:17px;height:26px;background:#044e00"></div>
<div class="c" style="left:1297px;top:457px;width:17px;height:20px;background:#1b7d01"></div>
<div class="c" style="left:1316px;top:429px;width:17px;height:19px;background:#460003"></div>
<div class="c" style="left:1335px;top:429px;width:14px;height:19px;background:#1b7d01"></div>
<div class="c" style="left:1316px;top:450px;width:12px;height:15px;background:#1b7d01"></div>
<div class="c" style="left:1316px;top:467px;width:12px;height:10px;background:#1b7d01"></div>
<div class="c" style="left:1330px;top:450px;width:11px;height:11px;background:#7f0007"></div>
<div class="c" style="left:1343px;top:450px;width:6px;height:11px;background:#1b7d01"></div>
<div class="c" style="left:1330px;top:463px;width:11px;height:6px;background:#7f0007"></div>
<div class="c" style="left:1343px;top:463px;width:6px;height:5px;background:#7f0007"></div>
<div class="c" style="left:1330px;top:471px;width:11px;height:6px;background:#460003"></div>
<div class="c" style="left:1343px;top:470px;width:4px;height:5px;background:#044e00"></div>
<div class="c" style="left:1348px;top:470px;width:1px;height:5px;background:#1b7d01"></div>
<div class="s" style="left:971px;top:475px;width:108px;height:106px"></div>
<div class="h" style="left:966.1px;top:476px;width:117.8px;height:20px;line-height:19px">.... ساخت محصولات [+]</div>
<div class="c" style="left:972px;top:496px;width:59px;height:82px;background:#1b7d01;font-size:6.89px"><span class="t">فاذر<br><i>1.93%</i></span></div>
<div class="c" style="left:1033px;top:496px;width:43px;height:39px;background:#044e00"><span>فاراك</span></div>
<div class="c" style="left:1033px;top:537px;width:21px;height:41px;background:#1b7d01"></div>
<div class="c" style="left:1056px;top:537px;width:20px;height:27px;background:#1b7d01"></div>
<div class="c" style="left:1056px;top:566px;width:18px;height:12px;background:#7f0007"></div>
<div class="s" style="left:971px;top:581px;width:108px;height:103px"></div>
<div class="h" style="left:966.1px;top:582px;width:117.8px;height:20px;line-height:19px">...ساير محصولات كا [+]</div>
<div class="c" style="left:972px;top:602px;width:41px;height:41px;background:#7f0007"><span>كساپا</span></div>
<div class="c" style="left:972px;top:645px;width:41px;height:37px;background:#7f0007"><span>كسرا</span></div>
<div class="c" style="left:1015px;top:602px;width:33px;height:23px;background:#7f0007"><span>كرازي</span></div>
<div class="c" style="left:1050px;top:602px;width:26px;height:23px;background:#1b7d01"><span>كا...</span></div>
<div class="c" style="left:1015px;top:627px;width:21px;height:27px;background:#1b7d01"></div>
<div class="c" style="left:1038px;top:627px;width:20px;height:27px;background:#7f0007"></div>
<div class="c" style="left:1060px;top:627px;width:16px;height:27px;background:#1b7d01"></div>
<div class="c" style="left:1015px;top:656px;width:21px;height:26px;background:#7f0007"></div>
<div class="c" style="left:1038px;top:656px;width:16px;height:13px;background:#044e00"></div>
<div class="c" style="left:1038px;top:671px;width:16px;height:11px;background:#7f0007"></div>
<div class="c" style="left:1056px;top:656px;width:10px;height:17px;background:#460003"></div>
<div class="c" style="left:1068px;top:656px;width:8px;height:17px;background:#460003"></div>
<div class="c" style="left:1056px;top:675px;width:11px;height:7px;background:#460003"></div>
<div class="c" style="left:1069px;top:675px;width:7px;height:7px;background:#1b7d01"></div>
<div class="s" style="left:1078px;top:479px;width:80px;height:116px"></div>
<div class="h" style="left:1074.7px;top:480px;width:86.7px;height:20px;line-height:19px">...عرضه برق [+]</div>
<div class="c" style="left:1080px;top:500px;width:75px;height:37px;background:#1b7d01;font-size:3.71px"><span class="t">بجهرم<br><i>1.98%</i></span></div>
<div class="c" style="left:1080px;top:539px;width:33px;height:33px;background:#1b7d01"><span>مبين</span></div>
<div class="c" style="left:1080px;top:574px;width:33px;height:18px;background:#1b7d01"></div>
<div class="c" style="left:1115px;top:539px;width:23px;height:22px;background:#1b7d01"></div>
<div class="c" style="left:1140px;top:539px;width:15px;height:22px;background:#460003"></div>
<div class="c" style="left:1115px;top:563px;width:19px;height:17px;background:#1b7d01"></div>
<div class="c" style="left:1115px;top:582px;width:19px;height:10px;background:#044e00"></div>
<div class="c" style="left:1136px;top:563px;width:10px;height:13px;background:#460003"></div>
<div class="c" style="left:1148px;top:563px;width:7px;height:13px;background:#1b7d01"></div>
<div class="c" style="left:1136px;top:578px;width:11px;height:7px;background:#1b7d01"></div>
<div class="c" style="left:1149px;top:578px;width:6px;height:9px;background:#1b7d01"></div>
<div class="c" style="left:1136px;top:587px;width:11px;height:5px;background:#1b7d01"></div>
<div class="c" style="left:1149px;top:589px;width:3px;height:3px;background:#1b7d01"></div>
<div class="c" style="left:1154px;top:589px;width:1px;height:3px;background:#7f0007"></div>
<div class="s" style="left:1079px;top:595px;width:79px;height:89px"></div>
<div class="h" style="left:1075.7px;top:596px;width:85.6px;height:21px;line-height:20px">مخابرات [+]</div>
<div class="c" style="left:1080px;top:617px;width:65px;height:65px;background:#1b7d01;font-size:6.89px"><span class="t">اخابر<br><i>1.91%</i></span></div>
<div class="c" style="left:1147px;top:617px;width:8px;height:65px;background:#044e00"></div>
<div class="s" style="left:1157px;top:479px;width:73px;height:87px"></div>
<div class="h" style="left:1154.0px;top:480px;width:78.9px;height:20px;line-height:19px">...ماشين آلا [+]</div>
<div class="c" style="left:1159px;top:500px;width:32px;height:46px;background:#1b7d01"><span>تايرا</span></div>
<div class="c" style="left:1159px;top:548px;width:32px;height:15px;background:#1b7d01"></div>
<div class="c" style="left:1193px;top:500px;width:17px;height:24px;background:#1b7d01"></div>
<div class="c" style="left:1212px;top:500px;width:16px;height:24px;background:#1b7d01"></div>
<div class="c" style="left:1193px;top:526px;width:21px;height:16px;background:#044e00"></div>
<div class="c" style="left:1216px;top:526px;width:12px;height:16px;background:#044e00"></div>
<div class="c" style="left:1193px;top:544px;width:9px;height:19px;background:#1b7d01"></div>
<div class="c" style="left:1204px;top:544px;width:15px;height:10px;background:#7f0007"></div>
<div class="c" style="left:1221px;top:544px;width:7px;height:9px;background:#7f0007"></div>
<div class="c" style="left:1204px;top:556px;width:15px;height:7px;background:#1b7d01"></div>
<div class="c" style="left:1221px;top:555px;width:7px;height:8px;background:#b0000f"></div>
<div class="s" style="left:1230px;top:479px;width:64px;height:87px"></div>
<div class="h" style="left:1227.5px;top:480px;width:68.9px;height:20px;line-height:19px">...ساير وا [+]</div>
<div class="c" style="left:1231px;top:500px;width:31px;height:43px;background:#1b7d01"><span>ول...</span></div>
<div class="c" style="left:1264px;top:500px;width:27px;height:43px;background:#1b7d01"><span>وا...</span></div>
<div class="c" style="left:1231px;top:545px;width:27px;height:18px;background:#1b7d01"></div>
<div class="c" style="left:1260px;top:545px;width:17px;height:8px;background:#1b7d01"></div>
<div class="c" style="left:1260px;top:555px;width:17px;height:8px;background:#460003"></div>
<div class="c" style="left:1279px;top:545px;width:12px;height:5px;background:#7f0007"></div>
<div class="c" style="left:1279px;top:552px;width:5px;height:11px;background:#1b7d01"></div>
<div class="c" style="left:1286px;top:552px;width:5px;height:5px;background:#044e00"></div>
<div class="c" style="left:1286px;top:559px;width:5px;height:4px;background:#1b7d01"></div>
<div class="s" style="left:1294px;top:479px;width:57px;height:87px"></div>
<div class="h" style="left:1292.0px;top:480px;width:61.1px;height:20px;line-height:19px">...اطلاعا [+]</div>
<div class="c" style="left:1295px;top:500px;width:54px;height:35px;background:#7f0007"><span>هاي وب</span></div>
<div class="c" style="left:1295px;top:537px;width:30px;height:26px;background:#460003"><span>ا...</span></div>
<div class="c" style="left:1327px;top:537px;width:22px;height:19px;background:#1b7d01"></div>
<div class="c" style="left:1327px;top:558px;width:22px;height:5px;background:#044e00"></div>
<div class="s" style="left:1157px;top:566px;width:73px;height:60px"></div>
<div class="h" style="left:1154.0px;top:567px;width:78.9px;height:20px;line-height:19px">قند و شكر [+]</div>
<div class="c" style="left:1159px;top:587px;width:16px;height:37px;background:#460003"></div>
<div class="c" style="left:1177px;top:587px;width:13px;height:19px;background:#1b7d01"></div>
<div class="c" style="left:1177px;top:608px;width:13px;height:16px;background:#1b7d01"></div>
<div class="c" style="left:1192px;top:587px;width:17px;height:11px;background:#044e00"></div>
<div class="c" style="left:1211px;top:587px;width:17px;height:11px;background:#1b7d01"></div>
<div class="c" style="left:1192px;top:600px;width:17px;height:12px;background:#7f0007"></div>
<div class="c" style="left:1211px;top:600px;width:8px;height:13px;background:#1b7d01"></div>
<div class="c" style="left:1221px;top:600px;width:7px;height:13px;background:#1b7d01"></div>
<div class="c" style="left:1192px;top:614px;width:17px;height:10px;background:#1b7d01"></div>
<div class="c" style="left:1211px;top:615px;width:10px;height:9px;background:#1b7d01"></div>
<div class="c" style="left:1223px;top:615px;width:5px;height:5px;background:#1b7d01"></div>
<div class="c" style="left:1223px;top:621px;width:5px;height:3px;background:#044e00"></div>
<div class="s" style="left:1158px;top:626px;width:73px;height:58px"></div>
<div class="h" style="left:1155.0px;top:627px;width:78.9px;height:21px;line-height:20px">...توليد مح [+]</div>
<div class="c" style="left:1159px;top:648px;width:55px;height:34px;background:#7f0007"><span>نيان</span></div>
<div class="c" style="left:1216px;top:648px;width:12px;height:34px;background:#1b7d01"></div>
<div class="s" style="left:1230px;top:566px;width:53px;height:72px"></div>
<div class="h" style="left:1228.2px;top:567px;width:56.7px;height:20px;line-height:19px">...هتل [+]</div>
<div class="c" style="left:1232px;top:587px;width:27px;height:33px;background:#460003"><span>گدنا</span></div>
<div class="c" style="left:1261px;top:587px;width:19px;height:33px;background:#7f0007"><span>آ...</span></div>
<div class="c" style="left:1232px;top:622px;width:37px;height:13px;background:#7f0007"></div>
<div class="c" style="left:1271px;top:622px;width:9px;height:13px;background:#460003"></div>
<div class="s" style="left:1231px;top:638px;width:52px;height:46px"></div>
<div class="h" style="left:1229.2px;top:639px;width:55.6px;height:20px;line-height:19px">...اس [+]</div>
<div class="c" style="left:1232px;top:659px;width:45px;height:23px;background:#460003"><span>كماسه</span></div>
<div class="c" style="left:1279px;top:659px;width:1px;height:23px;background:#1b7d01"></div>
<div class="s" style="left:1283px;top:566px;width:40px;height:53px"></div>
<div class="h" style="left:1281.9px;top:567px;width:42.2px;height:20px;line-height:19px">... [+]</div>
<div class="c" style="left:1284px;top:587px;width:15px;height:15px;background:#1b7d01"></div>
<div class="c" style="left:1284px;top:604px;width:15px;height:12px;background:#460003"></div>
<div class="c" style="left:1301px;top:587px;width:19px;height:9px;background:#7f0007"></div>
<div class="c" style="left:1301px;top:598px;width:14px;height:9px;background:#044e00"></div>
<div class="c" style="left:1317px;top:598px;width:3px;height:18px;background:#044e00"></div>
<div class="c" style="left:1301px;top:609px;width:14px;height:7px;background:#1b7d01"></div>
<div class="s" style="left:1323px;top:566px;width:28px;height:53px"></div>
<div class="h" style="left:1322.5px;top:567px;width:28.9px;height:20px;line-height:19px">...+]</div>
<div class="c" style="left:1324px;top:587px;width:25px;height:18px;background:#460003"></div>
<div class="c" style="left:1324px;top:607px;width:10px;height:9px;background:#1b7d01"></div>
<div class="c" style="left:1336px;top:607px;width:10px;height:9px;background:#7f0007"></div>
<div class="c" style="left:1348px;top:607px;width:1px;height:9px;background:#1b7d01"></div>
<div class="s" style="left:1283px;top:618px;width:33px;height:39px"></div>
<div class="h" style="left:1282.3px;top:619px;width:34.4px;height:21px;line-height:20px">...[+]</div>
<div class="c" style="left:1284px;top:640px;width:21px;height:15px;background:#1b7d01"></div>
<div class="c" style="left:1307px;top:640px;width:6px;height:9px;background:#7f0007"></div>
<div class="c" style="left:1307px;top:651px;width:6px;height:4px;background:#7f0007"></div>
<div class="s" style="left:1316px;top:618px;width:18px;height:36px"></div>
<div class="c" style="left:1317px;top:640px;width:6px;height:12px;background:#1b7d01"></div>
<div class="c" style="left:1325px;top:640px;width:6px;height:12px;background:#460003"></div>
<div class="s" style="left:1334px;top:619px;width:17px;height:36px"></div>
<div class="c" style="left:1335px;top:640px;width:14px;height:12px;background:#7f0007"></div>
<div class="s" style="left:1283px;top:657px;width:33px;height:27px"></div>
<div class="h" style="left:1282.3px;top:658px;width:34.4px;height:21px;line-height:20px">...[+]</div>
<div class="c" style="left:1284px;top:679px;width:29px;height:3px;background:#460003"></div>
<div class="s" style="left:1316px;top:654px;width:23px;height:19px"></div>
<div class="s" style="left:1339px;top:655px;width:12px;height:16px"></div>
<div class="s" style="left:1316px;top:673px;width:23px;height:11px"></div>
<div class="s" style="left:1339px;top:671px;width:12px;height:13px"></div>
</body></html>
